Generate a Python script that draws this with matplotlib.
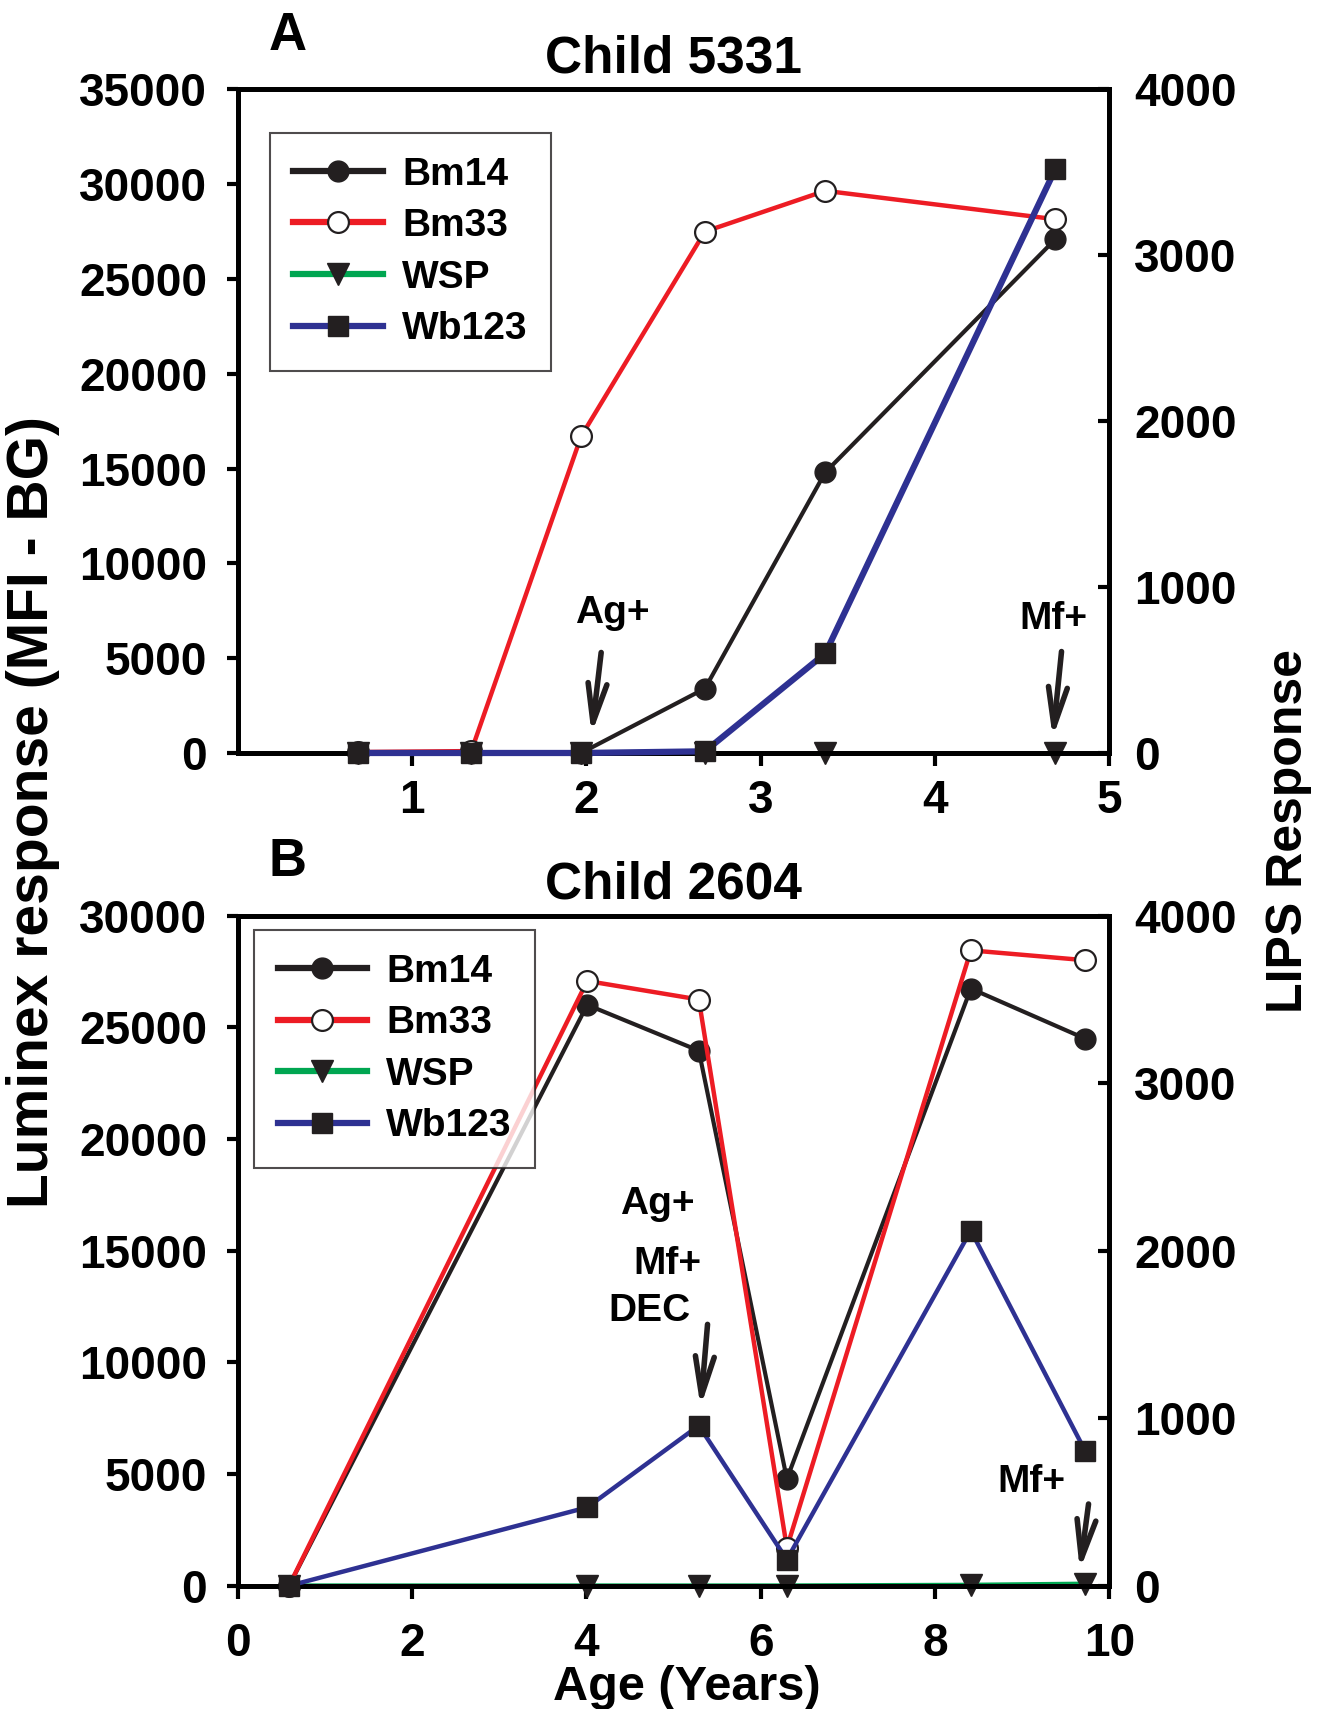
import numpy as np
import matplotlib
matplotlib.use("Agg")
import matplotlib.pyplot as plt

plt.rcParams['font.family'] = ['Liberation Sans', 'DejaVu Sans']
plt.rcParams['font.weight'] = 'bold'

# ============================================
# DATOS - Child 5331 (panel A)
# ============================================
edad_a = [0.69, 1.34, 1.97, 2.68, 3.37, 4.69]
bm14_a = [0, 0, 0, 3400, 14800, 27100]
bm33_a = [50, 100, 16700, 27500, 29650, 28150]
wsp_a = [0, 0, 0, 0, 0, 0]
wb123_a = [0, 0, 0, 10, 600, 3520]      # LIPS (eje derecho)

# ============================================
# DATOS - Child 2604 (panel B)
# ============================================
edad_b = [0.59, 4.01, 5.29, 6.30, 8.41, 9.72]
bm14_b = [0, 26000, 23950, 4780, 26730, 24490]
bm33_b = [0, 27070, 26240, 1700, 28440, 28000]
wsp_b = [0, 0, 0, 0, 30, 80]
wb123_b = [0, 468, 956, 156, 2120, 806]  # LIPS (eje derecho)

series = ['Bm14', 'Bm33', 'WSP', 'Wb123']

NEGRO = '#231f20'
ROJO = '#ed1c24'
VERDE = '#00a651'
AZUL = '#2e3192'

fig = plt.figure(figsize=(13.23, 17.09), dpi=100)


def panel(rect, x, bm14, bm33, wsp, wb123, ymax, xmax, xticks, titulo,
          letra, lw_azul, leg_pos, xpad):
    ax = fig.add_axes(rect)
    ax2 = ax.twinx()

    l1, = ax.plot(x, bm14, color=NEGRO, lw=3, marker='o', ms=15,
                  mfc=NEGRO, mec=NEGRO, clip_on=False, zorder=3)
    l2, = ax.plot(x, bm33, color=ROJO, lw=3.2, marker='o', ms=15,
                  mfc='white', mec=NEGRO, mew=1.6, clip_on=False, zorder=4)
    l3, = ax.plot(x, wsp, color=VERDE, lw=3.5, marker='v', ms=16,
                  mfc=NEGRO, mec=NEGRO, clip_on=False, zorder=2)
    l4, = ax2.plot(x, wb123, color=AZUL, lw=lw_azul, marker='s', ms=14,
                   mfc=NEGRO, mec=NEGRO, clip_on=False, zorder=3)

    ax.set_xlim(0, xmax)
    ax.set_ylim(0, ymax)
    ax2.set_ylim(0, 4000)
    ax.set_xticks(xticks)
    ax.set_yticks(np.arange(0, ymax + 1, 5000))
    ax2.set_yticks(np.arange(0, 4001, 1000))

    for a in (ax, ax2):
        for s in a.spines.values():
            s.set_linewidth(3.5)
    ax.tick_params(axis='y', direction='out', length=8, width=3,
                   labelsize=33, pad=14)
    ax.tick_params(axis='x', direction='out', length=9, width=3,
                   labelsize=33, pad=xpad)
    ax2.tick_params(axis='y', direction='in', length=8, width=3,
                    labelsize=33, pad=18)

    ax.set_title(titulo, fontsize=37, fontweight='bold', pad=12)
    ax.text(0.036, 1.08, letra, transform=ax.transAxes, fontsize=38,
            fontweight='bold', ha='left', va='center')

    leg = ax2.legend([l1, l2, l3, l4], series, loc='upper left',
                     bbox_to_anchor=leg_pos, borderaxespad=0, fontsize=28,
                     frameon=True, fancybox=False, edgecolor=NEGRO,
                     handlelength=2.3, labelspacing=0.4, borderpad=0.6,
                     handletextpad=0.5)
    leg.get_frame().set_linewidth(1.5)
    for h in leg.get_lines():
        h.set_linewidth(4.5)
    return ax, ax2


def flecha(ax, xy, xytext):
    ax.annotate('', xy=xy, xytext=xytext,
                arrowprops=dict(arrowstyle='->,head_length=0.7,head_width=0.17',
                                lw=4, color=NEGRO, mutation_scale=40,
                                shrinkA=0, shrinkB=0))


# Panel A
axA, axA2 = panel([0.1796, 0.5594, 0.659, 0.3883], edad_a, bm14_a, bm33_a,
                  wsp_a, wb123_a, 35000, 5, [1, 2, 3, 4, 5], 'Child 5331',
                  'A', 4.5, (0.037, 0.934), 10)
axA.text(2.15, 7360, 'Ag+', fontsize=28, ha='center', va='center')
flecha(axA, (2.03, 1000), (2.085, 5300))
axA.text(4.68, 7070, 'Mf+', fontsize=28, ha='center', va='center')
flecha(axA, (4.675, 800), (4.725, 5350))

# Panel B
axB, axB2 = panel([0.1796, 0.0721, 0.659, 0.3922], edad_b, bm14_b, bm33_b,
                  wsp_b, wb123_b, 30000, 10, [0, 2, 4, 6, 8, 10], 'Child 2604',
                  'B', 3.2, (0.019, 0.978), 17)
axB.text(4.81, 17070, 'Ag+', fontsize=28, ha='center', va='center')
axB.text(4.93, 14390, 'Mf+', fontsize=28, ha='center', va='center')
axB.text(4.72, 12290, 'DEC', fontsize=28, ha='center', va='center')
flecha(axB, (5.31, 8000), (5.39, 11700))
axB.text(9.11, 4630, 'Mf+', fontsize=28, ha='center', va='center')
flecha(axB, (9.66, 700), (9.76, 3660))

# Etiquetas de ejes compartidas
fig.text(0.025, 0.525, 'Luminex response (MFI - BG)', rotation=90,
         fontsize=41, fontweight='bold', ha='center', va='center')
fig.text(0.974, 0.514, 'LIPS Response', rotation=90,
         fontsize=36, fontweight='bold', ha='center', va='center')
fig.text(0.519, 0.0125, 'Age (Years)', fontsize=35, fontweight='bold',
         ha='center', va='center')

plt.savefig('out.png', dpi=100)
